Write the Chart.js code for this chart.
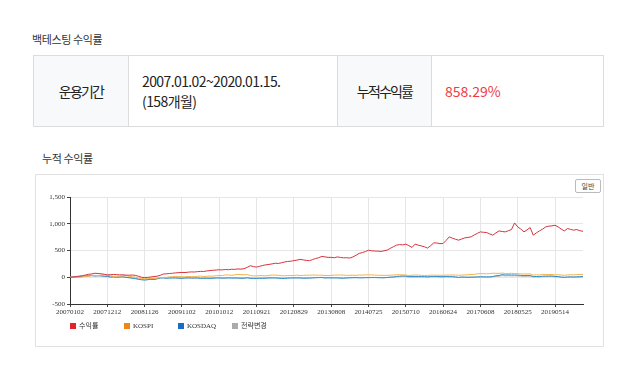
<!DOCTYPE html>
<html>
<head>
<meta charset="utf-8">
<script src="https://cdn.jsdelivr.net/npm/chart.js@4.4.0/dist/chart.umd.min.js"></script>
<style>
  body { margin: 0; background: #fff; font-family: "Noto Sans CJK KR", "Noto Sans", sans-serif; color: #333; }
  .wrap { position: relative; width: 636px; height: 380px; }
  .h { position: absolute; font-size: 11px; letter-spacing: -0.4px; color: #333; line-height: 14px; }
  table.info { position: absolute; left: 33px; top: 55px; width: 571px; height: 72px; border-collapse: collapse; }
  table.info td { border: 1px solid #dcdcdc; padding: 0; font-size: 14px; color: #222; }
  table.info td.lab { background: #f8f9fb; text-align: center; letter-spacing: -1.8px; }
  table.info td.val { padding-left: 13px; letter-spacing: -0.6px; line-height: 20px; }
  table.info td.red { color: #f23a45; letter-spacing: 0; }
  .box { position: absolute; left: 35px; top: 174px; width: 567px; height: 171px; border: 1px solid #e2e2e2; }
  .btn { position: absolute; left: 575px; top: 179px; width: 24px; height: 12px; border: 1px solid #bbb; border-radius: 2px;
         font-size: 7px; line-height: 12px; text-align: center; color: #444; background: #fff; }
  #c { position: absolute; left: 36px; top: 175px; }
</style>
</head>
<body>
<div class="wrap">
  <div class="h" style="left:32px; top:32px;">백테스팅 수익률</div>
  <table class="info">
    <tr>
      <td class="lab" style="width:94px;">운용기간</td>
      <td class="val" style="width:195px;">2007.01.02~2020.01.15.<br>(158개월)</td>
      <td class="lab" style="width:93px;">누적수익률</td>
      <td class="val red">858.29%</td>
    </tr>
  </table>
  <div class="h" style="left:42px; top:151px;">누적 수익률</div>
  <div class="box"></div>
  <canvas id="c" width="566" height="170"></canvas>
  <div class="btn">일반</div>
</div>
<script>
const tickDates = ['20070102', '20071212', '20081126', '20091102', '20101012', '20110921', '20120829',
  '20130808', '20140725', '20150710', '20160624', '20170608', '20180525', '20190514'];

const seriesNames = ['수익률', 'KOSPI', 'KOSDAQ', '전략변경'];

// cumulative return (%), one point about every 20 trading days
const strategy = [
  0, 5, 12, 22, 30, 42, 55, 62, 75, 70, 65, 55,
  45, 48, 52, 50, 44, 46, 40, 38, 42, 35, 20, 0,
  -5, -2, 5, 12, 20, 35, 60, 65, 70, 75, 82, 86,
  90, 88, 95, 100, 98, 105, 110, 108, 118, 125, 130, 135,
  140, 138, 145, 142, 150, 148, 155, 152, 160, 185, 215, 200,
  190, 205, 220, 232, 240, 250, 262, 258, 270, 285, 295, 300,
  310, 320, 335, 325, 315, 309, 330, 350, 365, 390, 380, 372,
  372, 365, 380, 370, 362, 365, 359, 380, 410, 446, 460, 480,
  505, 495, 490, 488, 483, 495, 507, 540, 570, 600, 610, 605,
  619, 590, 557, 619, 600, 585, 570, 545, 590, 643, 640, 628,
  632, 690, 755, 730, 710, 693, 715, 736, 745, 755, 790, 820,
  848, 840, 836, 810, 786, 830, 866, 855, 848, 870, 892, 1015,
  941, 900, 848, 885, 929, 786, 830, 866, 900, 941, 955, 960,
  972, 941, 900, 866, 910, 895, 880, 892, 870, 858.29
];
const kospi = [
  0, -3, -1, 2, 8, 18, 21, 33, 35, 31, 38, 44,
  33, 30, 15, 18, 19, 27, 29, 17, 11, 3, -10, -22,
  -25, -22, -19, -26, -16, -5, -3, -3, 8, 11, 17, 14,
  10, 8, 17, 12, 11, 18, 21, 14, 18, 23, 21, 30,
  31, 33, 43, 44, 35, 47, 53, 49, 46, 49, 31, 25,
  23, 33, 29, 27, 36, 41, 40, 38, 28, 29, 31, 33,
  33, 39, 33, 35, 39, 37, 41, 40, 37, 39, 30, 33,
  34, 40, 41, 42, 40, 35, 38, 38, 37, 41, 39, 45,
  45, 44, 41, 37, 38, 34, 36, 38, 42, 48, 47, 45,
  41, 35, 37, 41, 39, 37, 33, 34, 39, 39, 38, 37,
  37, 41, 42, 42, 40, 38, 41, 44, 46, 51, 54, 64,
  67, 67, 65, 67, 76, 73, 72, 79, 69, 70, 75, 69,
  66, 62, 60, 62, 63, 41, 46, 42, 54, 53, 49, 54,
  42, 48, 41, 37, 44, 45, 45, 50, 53, 55
];
const kosdaq = [
  0, 4, 5, 9, 15, 26, 29, 37, 27, 32, 30, 19,
  16, 4, 7, 1, 5, 9, -3, -9, -18, -26, -40, -47,
  -54, -46, -39, -44, -31, -14, -13, -19, -16, -14, -14, -19,
  -21, -15, -14, -16, -16, -16, -21, -21, -19, -21, -18, -14,
  -14, -18, -16, -13, -16, -16, -16, -19, -19, -11, -21, -24,
  -24, -19, -21, -18, -14, -13, -14, -18, -23, -23, -18, -14,
  -14, -13, -14, -19, -18, -16, -13, -9, -7, -5, -14, -11,
  -13, -13, -13, -18, -18, -14, -11, -9, -8, -11, -11, -8,
  -8, -6, -6, -8, -9, -11, -4, 0, 5, 15, 19, 25,
  22, 12, 12, 12, 12, 12, 12, 7, 14, 15, 15, 10,
  10, 15, 12, 12, 4, -3, 4, 2, 0, 2, 4, 5,
  10, 7, 7, 7, 15, 29, 32, 50, 42, 45, 42, 43,
  40, 35, 30, 33, 33, 12, 14, 12, 20, 22, 22, 24,
  14, 14, 2, -1, 4, 7, 4, 8, 10, 12
];
const switched = [
  0, 2, 3, 6, 10, 16, 20, 25, 20, 22, 20, 14,
  12, 4, 5, 2, 4, 6, -2, -6, -12, -18, -28, -34,
  -38, -32, -28, -30, -22, -10, -9, -12, -10, -9, -9, -12,
  -13, -10, -9, -10, -10, -10, -13, -13, -12, -13, -11, -9,
  -9, -11, -10, -8, -10, -10, -10, -12, -12, -7, -13, -15,
  -15, -12, -13, -11, -9, -8, -9, -11, -14, -14, -11, -9,
  -9, -8, -9, -12, -11, -10, -8, -6, -5, -3, -9, -7,
  -8, -8, -8, -11, -11, -9, -7, -6, -5, -7, -7, -5,
  -5, -4, -4, -5, -6, -7, -3, 0, 3, 9, 12, 15,
  13, 7, 7, 7, 7, 7, 7, 4, 8, 9, 9, 6,
  6, 9, 7, 7, 2, -2, 2, 1, 0, 1, 2, 3,
  6, 4, 4, 4, 9, 17, 19, 30, 25, 27, 25, 26,
  24, 21, 18, 20, 20, 7, 8, 7, 12, 13, 13, 14,
  8, 8, 1, -1, 2, 4, 2, 5, 6, 7
];

const POINTS_PER_TICK = 12;
const lineColors = ['#d8323d', '#f3b24a', '#2f8fcb', '#b4b4b4'];
const boxColors = ['#e0262c', '#f0851c', '#1c6cc6', '#ababab'];
const font = { family: 'Liberation Serif', size: 7 };

// legend with fixed item spacing, drawn under the x axis
const fixedLegend = {
  id: 'fixedLegend',
  afterDraw(chart) {
    const ctx = chart.ctx;
    const left = chart.chartArea.left;
    const y = 151;
    ctx.save();
    ctx.font = '7px "Liberation Serif", "Noto Sans CJK KR"';
    ctx.textBaseline = 'middle';
    chart.data.datasets.forEach((ds, i) => {
      const x = left + i * 54;
      ctx.fillStyle = boxColors[i];
      ctx.fillRect(x, y - 3, 6, 6);
      ctx.fillStyle = '#333';
      ctx.fillText(ds.label, x + 9, y);
    });
    ctx.restore();
  }
};

new Chart(document.getElementById('c'), {
  type: 'line',
  data: {
    labels: strategy.map((_, i) => i),
    datasets: [strategy, kospi, kosdaq, switched].map((d, i) => ({
      label: seriesNames[i],
      data: d,
      borderColor: lineColors[i],
      backgroundColor: boxColors[i],
      borderWidth: 1,
      pointRadius: 0,
      tension: 0
    }))
  },
  options: {
    responsive: false,
    animation: false,
    events: [],
    layout: { padding: { top: 22, right: 19, bottom: 31, left: 0 } },
    plugins: {
      tooltip: { enabled: false },
      legend: { display: false }
    },
    scales: {
      x: {
        type: 'linear',
        min: 0,
        max: strategy.length - 1,
        afterFit: s => { s.height = 10; },
        ticks: {
          stepSize: POINTS_PER_TICK, includeBounds: false, autoSkip: false, maxRotation: 0,
          color: '#333', font, padding: 1,
          callback: v => tickDates[v / POINTS_PER_TICK] || ''
        },
        grid: { color: '#e6e6e6', tickColor: '#444', tickLength: 3 },
        border: { color: '#333' }
      },
      y: {
        min: -500,
        max: 1500,
        afterFit: s => { s.width = 34; },
        ticks: {
          stepSize: 500, color: '#333', font, padding: 2,
          callback: v => v.toLocaleString('en-US')
        },
        grid: { color: '#e6e6e6', tickColor: '#444', tickLength: 3 },
        border: { color: '#333' }
      }
    }
  },
  plugins: [fixedLegend]
});
</script>
</body>
</html>
